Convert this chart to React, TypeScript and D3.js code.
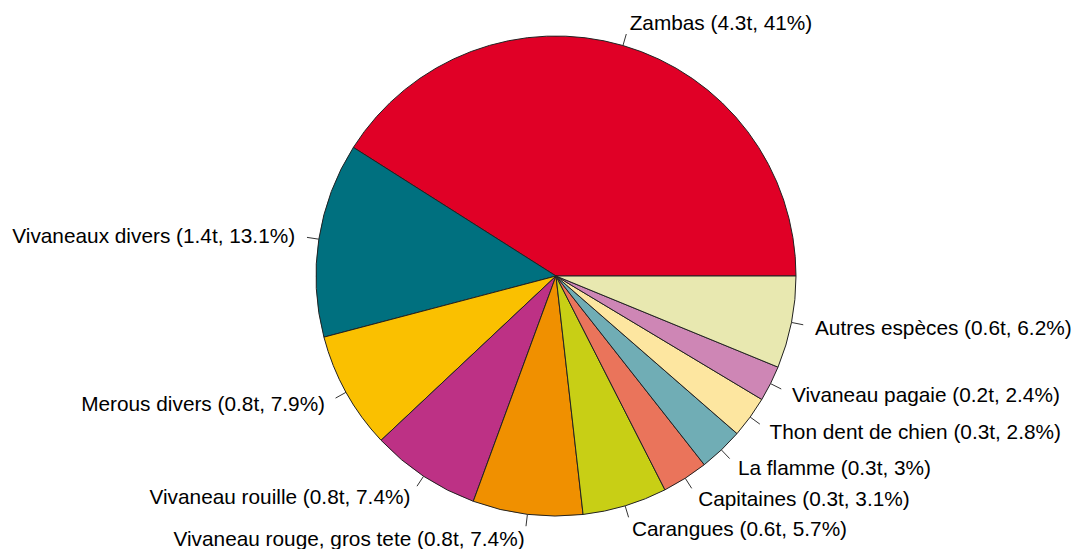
import React from 'react';
import * as d3 from 'd3';

const species = [
  'Zambas',
  'Vivaneaux divers',
  'Merous divers',
  'Vivaneau rouille',
  'Vivaneau rouge, gros tete',
  'Carangues',
  'Capitaines',
  'La flamme',
  'Thon dent de chien',
  'Vivaneau pagaie',
  'Autres espèces',
];
const tonnes = ['4.3', '1.4', '0.8', '0.8', '0.8', '0.6', '0.3', '0.3', '0.3', '0.2', '0.6'];
const percents = [41, 13.1, 7.9, 7.4, 7.4, 5.7, 3.1, 3, 2.8, 2.4, 6.2];
const colors = [
  '#E00026', '#00707F', '#FAC000', '#BD3185', '#F09000', '#C8CF15',
  '#EA745B', '#70ADB5', '#FDE6A0', '#CE86B5', '#E8E8B0',
];

export default function App() {
  const svgRef = React.useRef<SVGSVGElement>(null);

  const width = 1080;
  const height = 549;
  // center of the pie and its radius
  const cx = 556;
  const cy = 276;
  const radius = 240;

  React.useEffect(() => {
    const svgEl = d3.select(svgRef.current);
    svgEl.selectAll('*').remove();
    const g = svgEl.append('g').attr('transform', `translate(${cx},${cy})`);

    const data = percents.map((p, i) => ({ name: species[i], t: tonnes[i], p, color: colors[i] }));

    // R's pie goes counterclockwise from 3 o'clock
    const pie = d3.pie<any>()
      .sort(null)
      .value((d) => d.p)
      .startAngle(Math.PI / 2)
      .endAngle(Math.PI / 2 - 2 * Math.PI);
    const arcs = pie(data);

    const arc = d3.arc<any>().innerRadius(0).outerRadius(radius);

    g.selectAll('path.slice')
      .data(arcs)
      .enter()
      .append('path')
      .attr('class', 'slice')
      .attr('d', arc)
      .attr('fill', (d) => d.data.color)
      .attr('stroke', '#222')
      .attr('stroke-width', 1)
      .attr('stroke-linejoin', 'round');

    // tick lines and labels
    arcs.forEach((d) => {
      const a = (d.startAngle + d.endAngle) / 2;
      const sx = Math.sin(a);
      const sy = -Math.cos(a);
      g.append('line')
        .attr('x1', sx * radius)
        .attr('y1', sy * radius)
        .attr('x2', sx * radius * 1.05)
        .attr('y2', sy * radius * 1.05)
        .attr('stroke', '#333')
        .attr('stroke-width', 1);
      g.append('text')
        .attr('x', sx * radius * 1.1)
        .attr('y', sy * radius * 1.1)
        .attr('text-anchor', sx < 0 ? 'end' : 'start')
        .attr('dominant-baseline', 'central')
        .attr('font-family', 'Liberation Sans, Arial, sans-serif')
        .attr('font-size', '20.8px')
        .attr('fill', '#000')
        .text(`${d.data.name} (${d.data.t}t, ${d.data.p}%)`);
    });
  }, []);

  return (
    <svg
      ref={svgRef}
      width={width}
      height={height}
      style={{ position: 'absolute', left: 0, top: 0, background: '#fff' }}
    />
  );
}
